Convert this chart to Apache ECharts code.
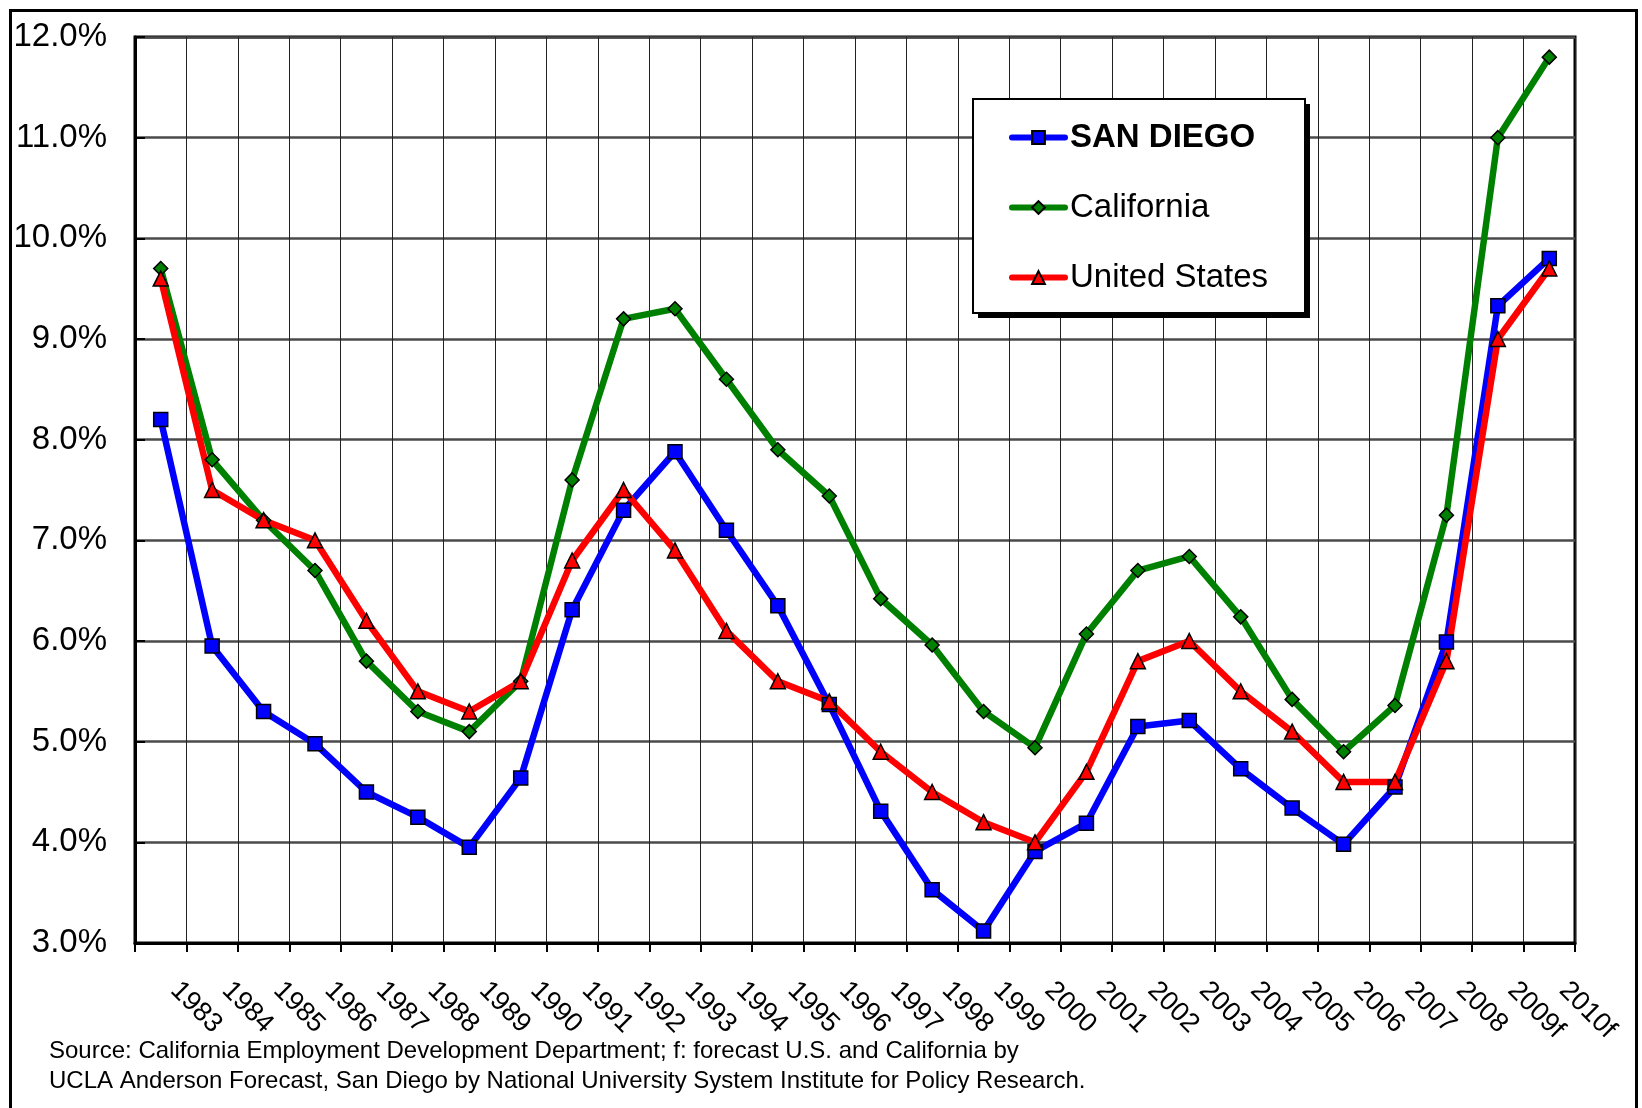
<!DOCTYPE html>
<html>
<head>
<meta charset="utf-8">
<title>Unemployment rate: San Diego, California, United States</title>
<script src="https://cdn.jsdelivr.net/npm/echarts@6/dist/echarts.min.js"></script>
<style>
  html, body { margin: 0; padding: 0; background: #fff; }
  #chart { width: 1642px; height: 1108px; }
</style>
</head>
<body>
<div id="chart"></div>
<script>
// data
var years = ['1983', '1984', '1985', '1986', '1987', '1988', '1989', '1990', '1991', '1992',
  '1993', '1994', '1995', '1996', '1997', '1998', '1999', '2000', '2001', '2002',
  '2003', '2004', '2005', '2006', '2007', '2008', '2009f', '2010f'];

var sanDiego = [8.2, 5.95, 5.3, 4.98, 4.5, 4.25, 3.95, 4.64, 6.31, 7.3,
  7.88, 7.1, 6.35, 5.37, 4.31, 3.53, 3.12, 3.91, 4.19, 5.15,
  5.21, 4.73, 4.34, 3.98, 4.55, 5.99, 9.33, 9.8];

var california = [9.7, 7.8, 7.2, 6.7, 5.8, 5.3, 5.1, 5.6, 7.6, 9.2,
  9.3, 8.6, 7.9, 7.44, 6.42, 5.96, 5.3, 4.94, 6.07, 6.7,
  6.84, 6.24, 5.42, 4.9, 5.36, 7.25, 11.0, 11.8];

var unitedStates = [9.6, 7.5, 7.2, 7.0, 6.2, 5.5, 5.3, 5.6, 6.8, 7.5,
  6.9, 6.1, 5.6, 5.4, 4.9, 4.5, 4.2, 4.0, 4.7, 5.8,
  6.0, 5.5, 5.1, 4.6, 4.6, 5.8, 9.0, 9.7];

var sourceLines = [
  'Source: California Employment Development Department; f: forecast U.S. and California by',
  'UCLA Anderson Forecast, San Diego by National University System Institute for Policy Research.'
];

var FONT = '"Liberation Sans", Arial, sans-serif';

var myChart = echarts.init(document.getElementById('chart'));

function mkSeries(name, data, color, symbol, size) {
  return {
    name: name,
    type: 'line',
    data: data,
    symbol: symbol,
    symbolSize: size,
    showAllSymbol: true,
    lineStyle: { color: color, width: 6.5 },
    itemStyle: { color: color, borderColor: '#000', borderWidth: 1.5 },
    emphasis: { disabled: true },
    animation: false
  };
}

function mkLegend(name, top) {
  return {
    data: [name],
    left: 1009,
    top: top,
    z: 100,
    itemWidth: 53,
    itemHeight: 16,
    itemGap: 0,
    padding: 0,
    selectedMode: false,
    lineStyle: { width: 6, cap: 'round' },
    formatter: function (n) {
      return n === 'SAN DIEGO' ? '{b|' + n + '}' : n;
    },
    textStyle: {
      fontFamily: FONT,
      fontSize: 33,
      color: '#000',
      rich: { b: { fontFamily: FONT, fontSize: 33, fontWeight: 'bold', color: '#000' } }
    }
  };
}

myChart.setOption({
  backgroundColor: '#fff',
  animation: false,
  grid: {
    left: 135,
    right: 67,
    top: 37,
    bottom: 165,
    show: true,
    borderColor: '#000',
    borderWidth: 3,
    backgroundColor: 'transparent'
  },
  legend: [
    mkLegend('SAN DIEGO', 121),
    mkLegend('California', 191),
    mkLegend('United States', 261)
  ],
  xAxis: {
    type: 'category',
    data: years,
    boundaryGap: true,
    axisLine: { lineStyle: { color: '#000', width: 3 } },
    axisTick: { show: true, inside: false, length: 9, lineStyle: { color: '#000', width: 2 } },
    splitLine: { show: true, lineStyle: { color: '#222', width: 1 } },
    axisLabel: {
      interval: 0,
      rotate: -45,
      margin: 29,
      padding: [0, 0, 0, 20],
      fontFamily: FONT,
      fontSize: 27,
      color: '#000'
    }
  },
  yAxis: {
    type: 'value',
    min: 3,
    max: 12,
    interval: 1,
    axisLine: { show: true, lineStyle: { color: '#000', width: 3 } },
    axisTick: { show: true, inside: true, length: 10, lineStyle: { color: '#000', width: 2 } },
    splitLine: { show: true, lineStyle: { color: '#4a4a4a', width: 2.5 } },
    axisLabel: {
      margin: 28,
      fontFamily: FONT,
      fontSize: 33,
      color: '#000',
      formatter: function (v) { return v.toFixed(1) + '%'; }
    }
  },
  graphic: [
    // outer frame
    { type: 'rect', left: 8, top: 8, z: -1, shape: { width: 1626, height: 1120 },
      style: { fill: 'none', stroke: '#000', lineWidth: 3 }, silent: true },
    // legend shadow + box
    { type: 'rect', left: 978, top: 104, z: 50, shape: { width: 332, height: 214 },
      style: { fill: '#000' }, silent: true },
    { type: 'rect', left: 972, top: 98, z: 51, shape: { width: 332, height: 214 },
      style: { fill: '#fff', stroke: '#000', lineWidth: 2 }, silent: true },
    // source note
    { type: 'text', left: 49, top: 1039,
      style: { text: sourceLines[0], font: '24px ' + FONT, fill: '#000' }, silent: true },
    { type: 'text', left: 49, top: 1069,
      style: { text: sourceLines[1], font: '24px ' + FONT, fill: '#000' }, silent: true }
  ],
  series: [
    mkSeries('SAN DIEGO', sanDiego, '#0000ff', 'rect', 14),
    mkSeries('California', california, '#008000', 'diamond', 14),
    mkSeries('United States', unitedStates, '#ff0000', 'triangle', 15)
  ]
});
</script>
</body>
</html>
